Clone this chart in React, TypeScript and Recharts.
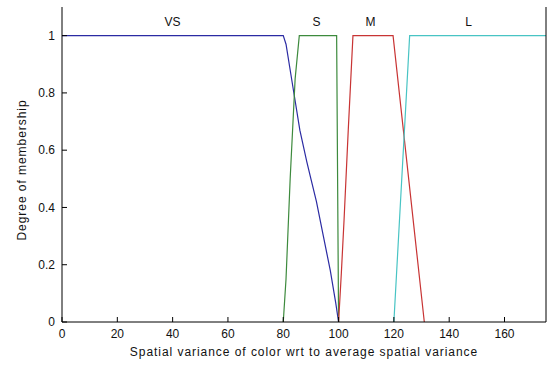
import React from 'react';
import { LineChart, Line, XAxis, YAxis, ReferenceDot } from 'recharts';

// membership function breakpoints (x = spatial variance, y = degree)
const vsX = [0, 80, 81, 82.5, 84, 86, 88.5, 90, 92, 94.5, 97, 99, 100];
const vsY = [1, 1, 0.97, 0.88, 0.79, 0.67, 0.56, 0.5, 0.42, 0.3, 0.18, 0.065, 0];

const sX = [80, 81, 82.5, 84.3, 85.8, 99.3, 100];
const sY = [0, 0.15, 0.5, 0.85, 1, 1, 0];

const mX = [100, 101, 102, 103.5, 105.2, 119.7, 131];
const mY = [0, 0.17, 0.36, 0.67, 1, 1, 0];

const lX = [120, 125.7, 175];
const lY = [0, 1, 1];

const mfNames = ['VS', 'S', 'M', 'L'];
const mfLabelX = [40, 92, 111.5, 147];
const mfLabelY = 1.05;

const xTicks = [0, 20, 40, 60, 80, 100, 120, 140, 160];
const yTicks = [0, 0.2, 0.4, 0.6, 0.8, 1];

const toPoints = (xs: number[], ys: number[]) => xs.map((x, i) => ({ x, y: ys[i] }));

const series = [
  { name: 'VS', data: toPoints(vsX, vsY), color: '#2b2ba3' },
  { name: 'S', data: toPoints(sX, sY), color: '#3d8a3d' },
  { name: 'M', data: toPoints(mX, mY), color: '#c83434' },
  { name: 'L', data: toPoints(lX, lY), color: '#48c4c4' },
];

const font = '"Liberation Sans", Arial, sans-serif';

const App: React.FC = () => {
  return (
    <div style={{ position: 'absolute', left: 0, top: 0, background: '#fff' }}>
      <LineChart
        width={549}
        height={365}
        margin={{ top: 7, right: 2, bottom: 0, left: 0 }}
        style={{ fontFamily: font }}
      >
        <XAxis
          xAxisId="b"
          type="number"
          dataKey="x"
          domain={[0, 175]}
          ticks={xTicks}
          allowDataOverflow
          height={43}
          tickSize={-5}
          tickMargin={12}
          axisLine={{ stroke: '#000' }}
          tickLine={{ stroke: '#000' }}
          tick={{ fill: '#111', fontSize: 12 }}
          label={{
            value: 'Spatial variance of color wrt to average spatial variance',
            position: 'insideBottom',
            offset: 9,
            fill: '#111',
            fontSize: 12,
            letterSpacing: 0.95,
          }}
        />
        <XAxis
          xAxisId="t"
          orientation="top"
          type="number"
          dataKey="x"
          domain={[0, 175]}
          ticks={xTicks}
          allowDataOverflow
          height={0}
          tickSize={-5}
          axisLine={{ stroke: '#000' }}
          tickLine={{ stroke: '#000' }}
          tick={false}
        />
        <YAxis
          yAxisId="l"
          type="number"
          domain={[0, 1.1]}
          ticks={yTicks}
          allowDataOverflow
          width={62}
          tickSize={-5}
          tickMargin={12}
          axisLine={{ stroke: '#000' }}
          tickLine={{ stroke: '#000' }}
          tick={{ fill: '#111', fontSize: 12 }}
          label={{
            content: () => (
              <text
                x={22}
                y={170}
                transform="rotate(-90 22 170)"
                textAnchor="middle"
                dominantBaseline="central"
                fill="#111"
                fontSize={12}
                letterSpacing={0.95}
              >
                Degree of membership
              </text>
            ),
          }}
        />
        <YAxis
          yAxisId="r"
          orientation="right"
          type="number"
          domain={[0, 1.1]}
          ticks={yTicks}
          allowDataOverflow
          width={1}
          tickSize={-5}
          axisLine={{ stroke: '#000' }}
          tickLine={{ stroke: '#000' }}
          tick={false}
        />
        {series.map((s) => (
          <Line
            key={s.name}
            xAxisId="b"
            yAxisId="l"
            data={s.data}
            dataKey="y"
            type="linear"
            stroke={s.color}
            strokeWidth={1.2}
            dot={false}
            activeDot={false}
            isAnimationActive={false}
          />
        ))}
        {mfNames.map((n, i) => (
          <ReferenceDot
            key={n}
            xAxisId="b"
            yAxisId="l"
            x={mfLabelX[i]}
            y={mfLabelY}
            r={1}
            fill="none"
            stroke="none"
            label={{ value: n, position: 'center', fill: '#111', fontSize: 12 }}
          />
        ))}
      </LineChart>
    </div>
  );
};

export default App;
